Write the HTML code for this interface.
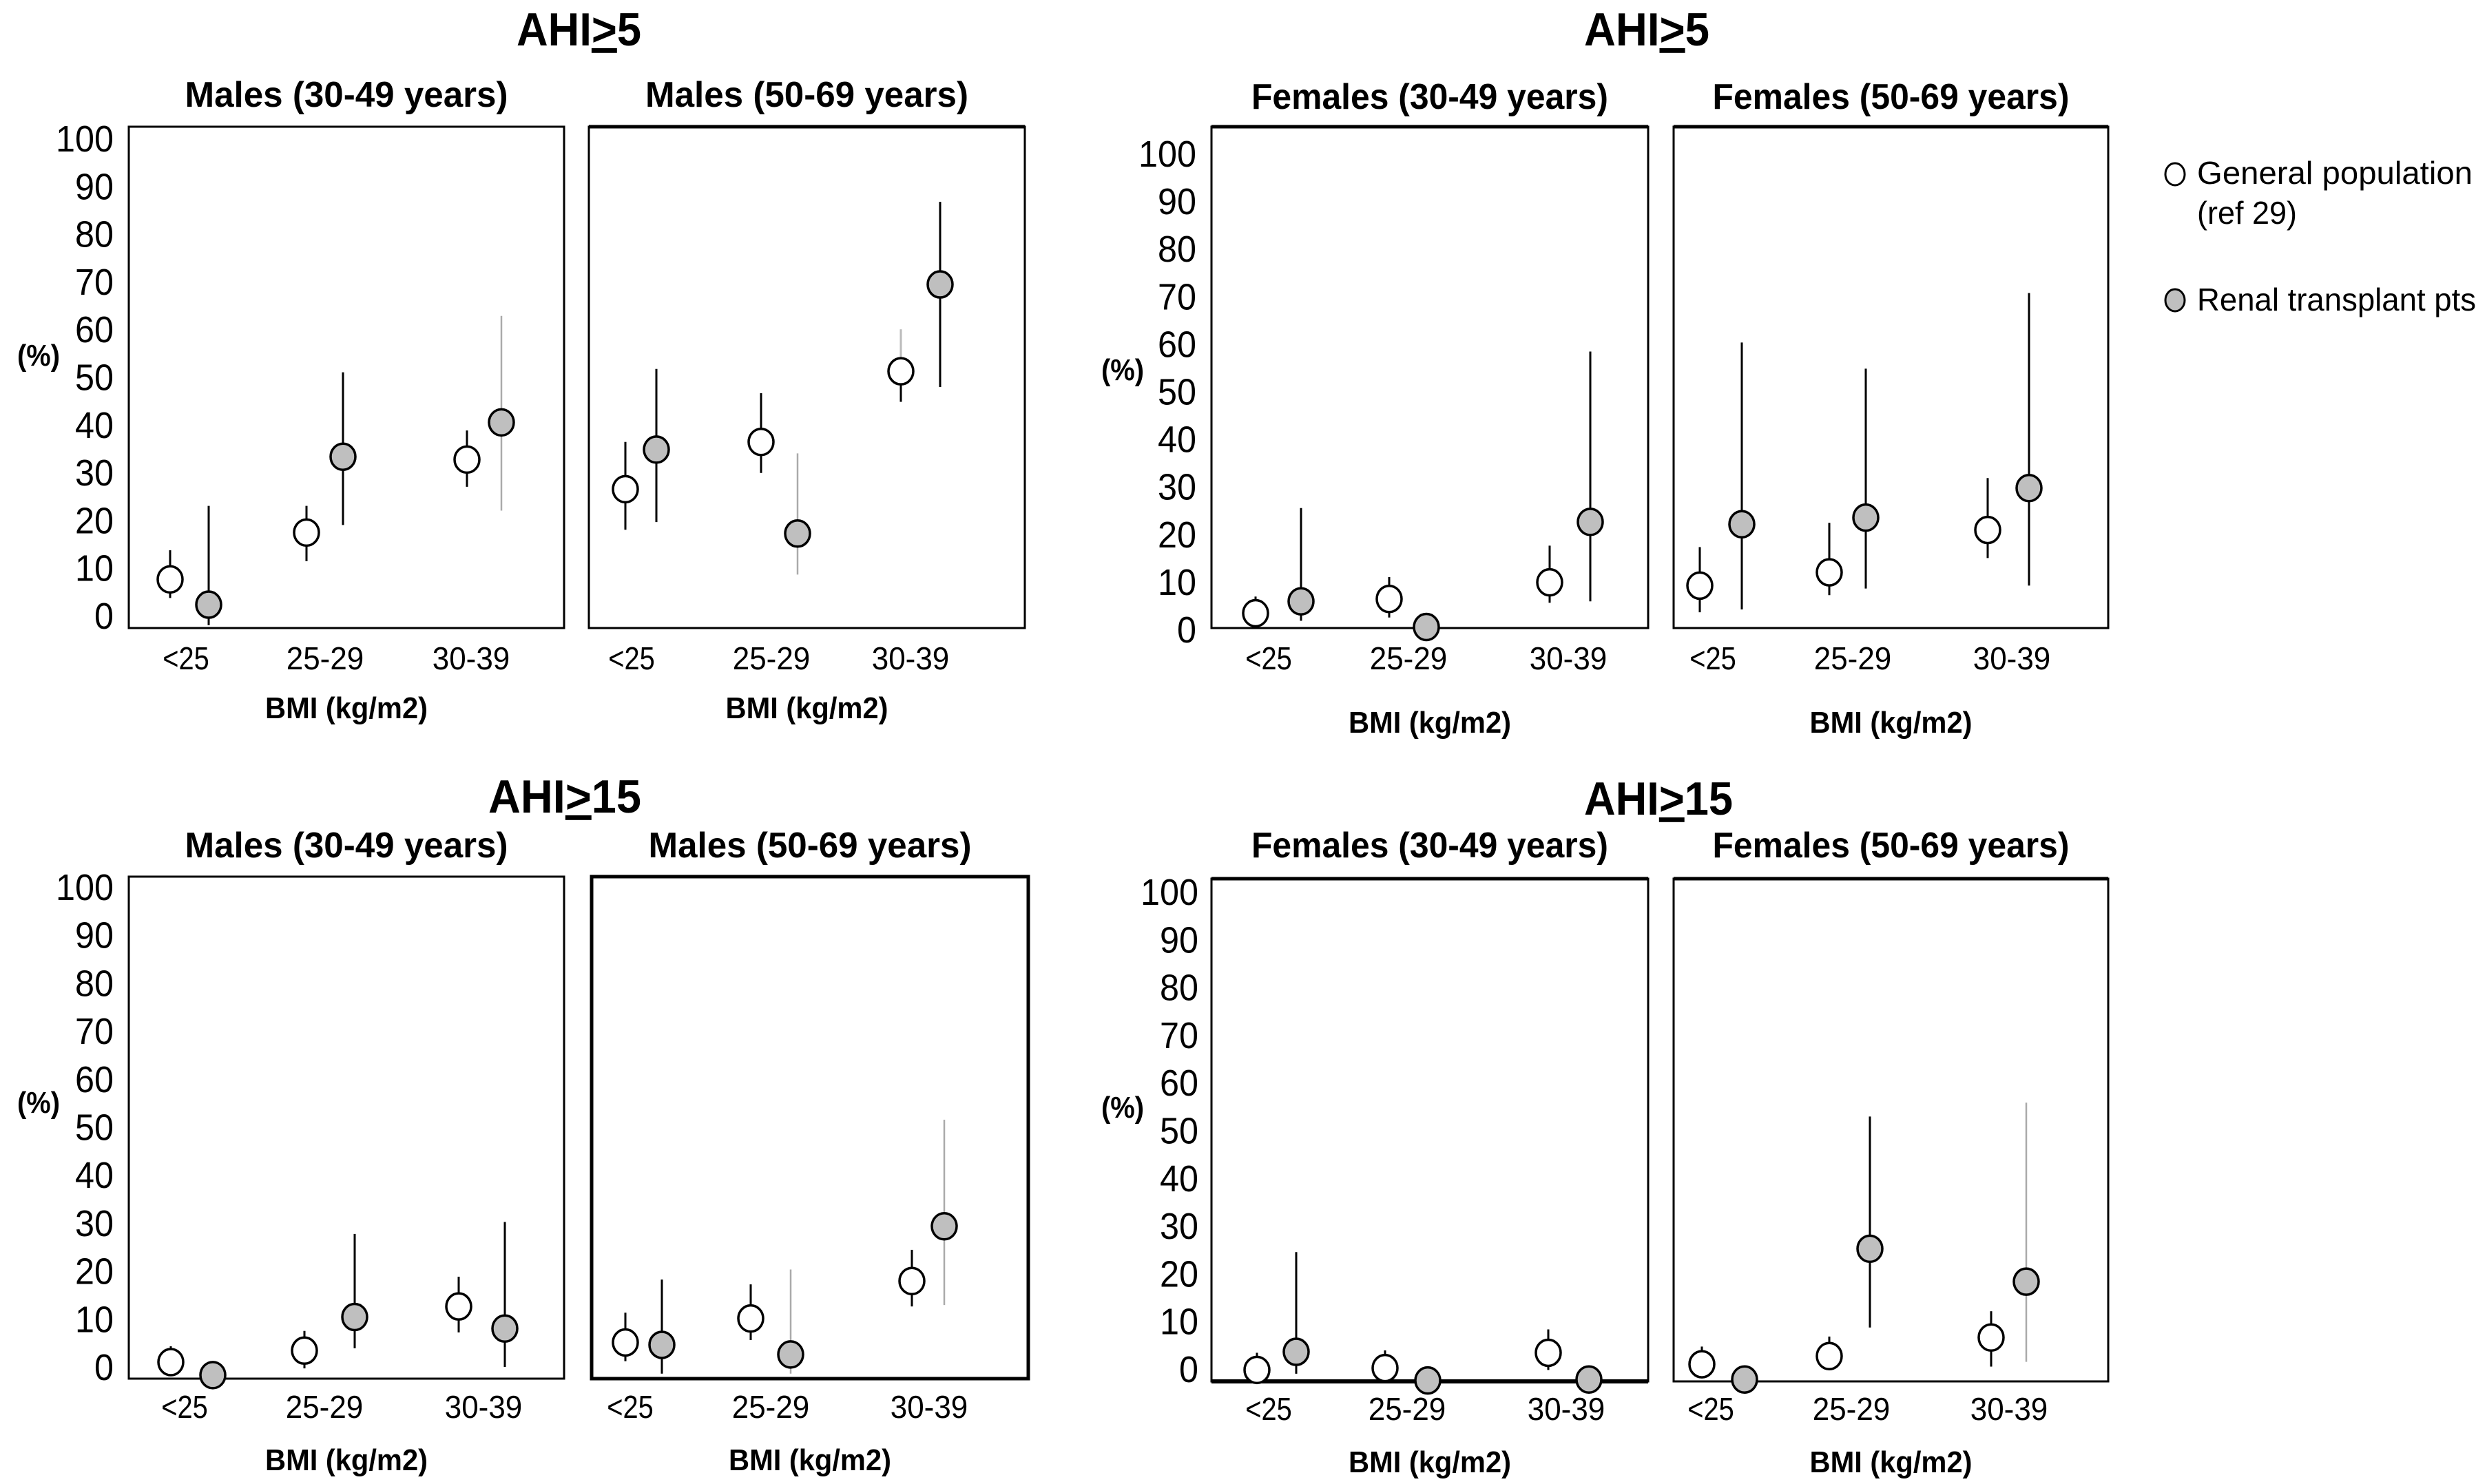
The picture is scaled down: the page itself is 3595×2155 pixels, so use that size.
<!DOCTYPE html>
<html><head><meta charset="utf-8"><style>
html,body{margin:0;padding:0;background:#fff;}
svg{display:block;font-family:"Liberation Sans",sans-serif;}
</style></head><body>
<svg id="fig" width="3595" height="2155" viewBox="0 0 3595 2155" xmlns="http://www.w3.org/2000/svg"></svg>
<script>
const categories = ["<25", "25-29", "30-39"];
const yTicks = [0,10,20,30,40,50,60,70,80,90,100];
const panelTitles = ["Males (30-49 years)","Males (50-69 years)","Females (30-49 years)","Females (50-69 years)",
                     "Males (30-49 years)","Males (50-69 years)","Females (30-49 years)","Females (50-69 years)"];
// General population values (%), lower and upper CI
const genVals = [[7.6,17.4,32.7],[26.5,36.4,51.2],[3.4,6.4,9.9],[9.2,12,20.9],
                 [1.0,3.4,12.6],[5.1,10.1,17.9],[-0.2,0.2,3.4],[1.0,2.7,6.6]];
const genLo   = [[3.7,11.4,27],[18,29.9,44.8],[0.5,2.5,5.6],[3.6,7.2,15],
                 [-1.9,-0.3,7.2],[1.2,5.6,12.6],[-2.7,-1.7,-0.2],[-1.3,0.2,0.5]];
const genHi   = [[13.7,23,38.8],[36.4,46.6,60],[6.9,11,17.6],[17.3,22.4,31.8],
                 [4.3,7.5,18.8],[11.3,17.2,24.4],[3.4,3.9,8.3],[4.7,6.8,12.1]];
// Renal transplant patients values (%), lower and upper CI (null = no bar)
const rtpVals = [[2.3,33.3,40.5],[34.8,17.2,69.4],[5.9,0.5,22.6],[22.1,23.5,29.7],
                 [-1.7,10.4,8.0],[4.6,2.6,29.3],[3.6,-2.4,-2.2],[-2.2,25.2,18.3]];
const rtpLo   = [[-2,19,22],[19.6,8.6,47.9],[1.8,null,5.9],[4.2,8.6,9.2],
                 [null,3.9,0],[-1.4,-1.4,12.9],[-1,null,null],[null,8.7,1.5]];
const rtpHi   = [[23,51,62.8],[51.7,34,86.7],[25.5,null,58.4],[60.3,54.8,70.7],
                 [null,27.7,30.2],[18.2,20.3,51.5],[24.5,null,null],[null,52.9,55.8]];

const L = [
 {x0:187,x1:819,top:184,bot:912,y0:894,y100:201,gx:[247,445,678],rx:[303,498,728],lx:[270,472,684],tickR:165,catY:972,bmiY:1043,titleY:155,pctX:56,pctY:516,bw:3},
 {x0:855,x1:1488,top:184,bot:912,y0:894,y100:201,gx:[908,1105,1308],rx:[953,1158,1365],lx:[917,1120,1322],titleY:155,catY:972,bmiY:1043,bw:3,bwTop:5},
 {x0:1759,x1:2393,top:184,bot:912,y0:914,y100:223,gx:[1823,2017,2250],rx:[1889,2071,2309],lx:[1842,2045,2277],tickR:1737,catY:972,bmiY:1064,titleY:158,pctX:1630,pctY:537,bw:3,bwTop:5},
 {x0:2430,x1:3061,top:184,bot:912,y0:914,y100:223,gx:[2468,2656,2886],rx:[2529,2709,2946],lx:[2487,2690,2921],catY:972,bmiY:1064,titleY:158,bw:3,bwTop:5},
 {x0:187,x1:819,top:1273,bot:2002,y0:1985,y100:1288,gx:[248,442,666],rx:[309,515,733],lx:[268,471,702],tickR:165,catY:2059,bmiY:2135,titleY:1245,pctX:56,pctY:1601,bw:3},
 {x0:859,x1:1493,top:1273,bot:2002,y0:1985,y100:1288,gx:[908,1090,1324],rx:[961,1148,1371],lx:[915,1119,1349],catY:2059,bmiY:2135,titleY:1245,bw:5},
 {x0:1759,x1:2393,top:1276,bot:2006,y0:1988,y100:1295,gx:[1825,2011,2248],rx:[1882,2073,2307],lx:[1842,2043,2274],tickR:1740,catY:2062,bmiY:2138,titleY:1245,pctX:1630,pctY:1608,bw:3,bwTop:5,bwBot:6},
 {x0:2430,x1:3061,top:1276,bot:2006,y0:1988,y100:1295,gx:[2471,2656,2891],rx:[2533,2715,2942],lx:[2484,2688,2917],catY:2062,bmiY:2138,titleY:1245,bw:3,bwTop:5}
];
const lightRtp = [[0,0,1],[0,1,0],[0,0,0],[0,0,0],[0,0,0],[0,1,1],[0,0,0],[0,0,1]];
const lightGenTop = [[0,0,0],[0,0,1],[0,0,0],[0,0,0],[0,0,0],[0,0,0],[0,0,0],[0,0,0]];

const NS="http://www.w3.org/2000/svg";
const svg=document.getElementById('fig');
function mk(tag,attrs,parent){const e=document.createElementNS(NS,tag);for(const k in attrs)e.setAttribute(k,attrs[k]);(parent||svg).appendChild(e);return e;}
function txt(s,attrs,parent){const e=mk('text',attrs,parent);e.textContent=s;return e;}

function bigTitle(x,y,w,num,name){
  const t=txt('',{x:x,y:y,'font-size':68,'font-weight':'bold',textLength:w,lengthAdjust:'spacingAndGlyphs'});
  
  
  const a=mk('tspan',{},t);a.textContent='AHI';
  const b=mk('tspan',{'text-decoration':'underline'},t);b.textContent='>';
  const c=mk('tspan',{},t);c.textContent=num;
}
bigTitle(750,66,181,'5','ahi5-males-title');
bigTitle(2300,66,182,'5','ahi5-females-title');
bigTitle(709,1180,222,'15','ahi15-males-title');
bigTitle(2300,1183,216,'15','ahi15-females-title');

L.forEach((p,i)=>{
  const g=mk('g',{});
  
  
  const yS=v=>p.y0+(p.y100-p.y0)*v/100;
  const box=mk('rect',{x:p.x0,y:p.top,width:p.x1-p.x0,height:p.bot-p.top,fill:'none',stroke:'#000','stroke-width':p.bw},g);
  
  
  if(p.bwTop){const l=mk('line',{x1:p.x0,x2:p.x1,y1:p.top,y2:p.top,stroke:'#000','stroke-width':p.bwTop},g);}
  if(p.bwBot){const l=mk('line',{x1:p.x0,x2:p.x1,y1:p.bot,y2:p.bot,stroke:'#000','stroke-width':p.bwBot},g);}
  const tw = panelTitles[i].startsWith('Males')?469:518;
  const tt=txt(panelTitles[i],{x:(p.x0+p.x1)/2,y:p.titleY,'text-anchor':'middle','font-size':52,'font-weight':'bold',textLength:tw,lengthAdjust:'spacingAndGlyphs'},g);
  
  
  if(p.tickR){
    yTicks.forEach(v=>{
      const s=String(v);
      const t=txt(s,{x:p.tickR,y:yS(v)+19,'text-anchor':'end','font-size':54,textLength:s.length*28,lengthAdjust:'spacingAndGlyphs'},g);
      
      
    });
    const pc=txt('(%)',{x:p.pctX,y:p.pctY+15,'text-anchor':'middle','font-size':44,'font-weight':'bold',textLength:62,lengthAdjust:'spacingAndGlyphs'},g);
    
    
  }
  categories.forEach((c,j)=>{
    const t=txt(c,{x:p.lx[j],y:p.catY,'text-anchor':'middle','font-size':46,textLength:c.length*22.5,lengthAdjust:'spacingAndGlyphs'},g);
    
    
  });
  const bx=txt('BMI (kg/m2)',{x:(p.x0+p.x1)/2,y:p.bmiY,'text-anchor':'middle','font-size':44,'font-weight':'bold',textLength:236,lengthAdjust:'spacingAndGlyphs'},g);
  
  
  categories.forEach((c,j)=>{
    const gx=p.gx[j];
    const gl=mk('line',{x1:gx,x2:gx,y1:yS(genLo[i][j]),y2:yS(genVals[i][j]),stroke:'#000','stroke-width':3},g);
    
    
    const gh=mk('line',{x1:gx,x2:gx,y1:yS(genVals[i][j]),y2:yS(genHi[i][j]),stroke:lightGenTop[i][j]?'#bbb':'#000','stroke-width':3},g);
    
    
    const rx=p.rx[j];
    if(rtpLo[i][j]!==null){
      const rl=mk('line',{x1:rx,x2:rx,y1:yS(rtpLo[i][j]),y2:yS(rtpHi[i][j]),stroke:lightRtp[i][j]?'#aaa':'#000','stroke-width':lightRtp[i][j]?2.5:3},g);
      
      
    }
    const gc=mk('ellipse',{cx:gx,cy:yS(genVals[i][j]),rx:18,ry:19,fill:'#fff',stroke:'#000','stroke-width':3.5},g);
    
    
    const rc=mk('ellipse',{cx:rx,cy:yS(rtpVals[i][j]),rx:18,ry:19,fill:'#bfbfbf',stroke:'#000','stroke-width':3.5},g);
    
    
  });
});

const lg=mk('g',{});


const l1=mk('ellipse',{cx:3158,cy:253,rx:14,ry:16,fill:'#fff',stroke:'#000','stroke-width':3},lg);


const t1=txt('General population',{x:3190,y:267,'font-size':46,textLength:400,lengthAdjust:'spacingAndGlyphs'},lg);


const t2=txt('(ref 29)',{x:3190,y:325,'font-size':46,textLength:145,lengthAdjust:'spacingAndGlyphs'},lg);


const l2=mk('ellipse',{cx:3158,cy:436,rx:14,ry:16,fill:'#bfbfbf',stroke:'#000','stroke-width':3},lg);


const t3=txt('Renal transplant pts',{x:3190,y:451,'font-size':46,textLength:405,lengthAdjust:'spacingAndGlyphs'},lg);


</script>
</body></html>
